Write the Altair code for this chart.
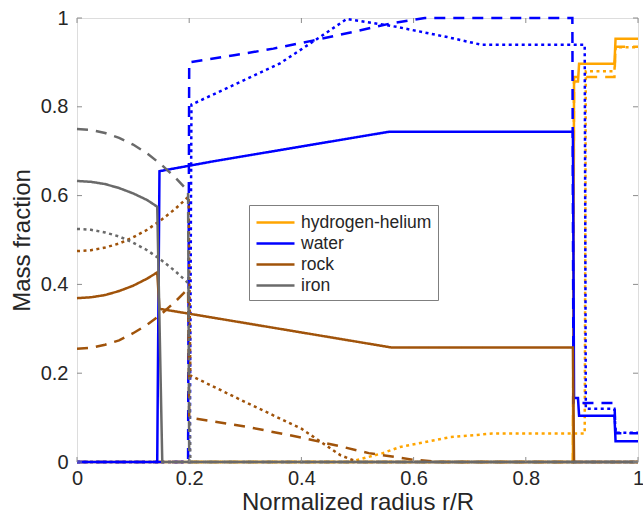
import altair as alt
import pandas as pd

components = ["hydrogen-helium", "water", "rock", "iron"]
colors = ["#FFA500", "#0000FF", "#A0530A", "#6A6A6A"]
styles = ["solid", "dashed", "dotted"]
dashes = [[1, 0], [11, 8], [3, 3.5]]

tick_values = [0, 0.2, 0.4, 0.6, 0.8, 1]

# hydrogen-helium
hhe_solid_x = [0, 0.884, 0.886, 0.893, 0.895, 0.958, 0.960, 1.0]
hhe_solid_y = [0, 0, 0.857, 0.857, 0.897, 0.897, 0.953, 0.953]
hhe_dashed_x = [0, 0.884, 0.886, 0.958, 0.960, 1.0]
hhe_dashed_y = [0, 0, 0.867, 0.867, 0.935, 0.935]
hhe_dotted_x = [0, 0.486, 0.545, 0.576, 0.665, 0.74, 0.905, 0.907, 0.958, 0.960, 1.0]
hhe_dotted_y = [0, 0, 0.02, 0.034, 0.056, 0.064, 0.064, 0.88, 0.88, 0.934, 0.934]

# water
water_solid_x = [0, 0.143, 0.147, 0.242, 0.35, 0.557, 0.884, 0.886, 0.893, 0.895, 0.958, 0.960, 1.0]
water_solid_y = [0, 0, 0.655, 0.677, 0.70, 0.744, 0.744, 0.144, 0.144, 0.104, 0.104, 0.047, 0.047]
water_dashed_x = [0, 0.198, 0.200, 0.28, 0.35, 0.42, 0.49, 0.56, 0.62, 0.883, 0.885, 0.958, 0.960, 1.0]
water_dashed_y = [0, 0, 0.9, 0.916, 0.931, 0.949, 0.968, 0.988, 1.0, 1.0, 0.133, 0.133, 0.065, 0.065]
water_dotted_x = [0, 0.201, 0.204, 0.272, 0.362, 0.433, 0.481, 0.57, 0.66, 0.72, 0.905, 0.907, 0.958, 0.960, 1.0]
water_dotted_y = [0, 0, 0.805, 0.845, 0.898, 0.957, 0.998, 0.98, 0.957, 0.94, 0.94, 0.12, 0.12, 0.066, 0.066]

# rock
rock_solid_x = [0, 0.025, 0.05, 0.075, 0.1, 0.125, 0.143, 0.147, 0.2, 0.56, 0.884, 0.886, 1.0]
rock_solid_y = [0.369, 0.371, 0.376, 0.385, 0.397, 0.413, 0.427, 0.345, 0.334, 0.258, 0.258, 0, 0]
rock_dashed_x = [0, 0.025, 0.05, 0.075, 0.1, 0.125, 0.15, 0.175, 0.198, 0.200, 0.3, 0.4, 0.47, 0.52, 0.6, 0.65, 1.0]
rock_dashed_y = [0.255, 0.257, 0.264, 0.274, 0.29, 0.309, 0.333, 0.361, 0.39, 0.1, 0.08, 0.055, 0.035, 0.02, 0.005, 0, 0]
rock_dotted_x = [0, 0.025, 0.05, 0.075, 0.1, 0.125, 0.15, 0.175, 0.199, 0.202, 0.3, 0.4, 0.47, 0.5, 1.0]
rock_dotted_y = [0.475, 0.477, 0.483, 0.492, 0.506, 0.523, 0.545, 0.57, 0.598, 0.195, 0.135, 0.075, 0.015, 0, 0]

# iron
iron_solid_x = [0, 0.025, 0.05, 0.075, 0.1, 0.125, 0.143, 0.152, 1.0]
iron_solid_y = [0.633, 0.631, 0.626, 0.617, 0.605, 0.590, 0.575, 0, 0]
iron_dashed_x = [0, 0.025, 0.05, 0.075, 0.1, 0.125, 0.15, 0.175, 0.198, 0.200, 1.0]
iron_dashed_y = [0.75, 0.748, 0.741, 0.730, 0.715, 0.695, 0.670, 0.641, 0.61, 0, 0]
iron_dotted_x = [0, 0.025, 0.05, 0.075, 0.1, 0.125, 0.15, 0.175, 0.199, 0.202, 1.0]
iron_dotted_y = [0.525, 0.523, 0.517, 0.508, 0.494, 0.477, 0.455, 0.43, 0.402, 0, 0]

series = {
    "hydrogen-helium": [(hhe_solid_x, hhe_solid_y), (hhe_dashed_x, hhe_dashed_y), (hhe_dotted_x, hhe_dotted_y)],
    "water": [(water_solid_x, water_solid_y), (water_dashed_x, water_dashed_y), (water_dotted_x, water_dotted_y)],
    "rock": [(rock_solid_x, rock_solid_y), (rock_dashed_x, rock_dashed_y), (rock_dotted_x, rock_dotted_y)],
    "iron": [(iron_solid_x, iron_solid_y), (iron_dashed_x, iron_dashed_y), (iron_dotted_x, iron_dotted_y)],
}

rows = []
for comp, lst in series.items():
    for style, (xs, ys) in zip(styles, lst):
        for i, (xv, yv) in enumerate(zip(xs, ys)):
            rows.append({"component": comp, "style": style, "x": xv, "y": yv, "i": i})
df = pd.DataFrame(rows)

FONT = "Liberation Sans"
W, H = 561, 444

xscale = alt.Scale(domain=[0, 1], nice=False, zero=False)
yscale = alt.Scale(domain=[0, 1], nice=False, zero=False)

xaxis = alt.Axis(values=tick_values, format="~g", domain=False, ticks=False, grid=False,
                 labelFlush=False,
                 labelFontSize=20, labelFont=FONT, labelColor="#262626", labelPadding=6,
                 title="Normalized radius r/R", titleFontSize=24, titleFont=FONT,
                 titleFontWeight="normal", titleColor="#262626", titlePadding=2)
yaxis = alt.Axis(values=tick_values, format="~g", domain=False, ticks=False, grid=False,
                 labelFlush=False,
                 labelFontSize=20, labelFont=FONT, labelColor="#262626", labelPadding=9,
                 title="Mass fraction", titleFontSize=24, titleFont=FONT,
                 titleFontWeight="normal", titleColor="#262626", titlePadding=6)

color_enc = alt.Color("component:N", scale=alt.Scale(domain=components, range=colors),
                      legend=alt.Legend(title=None, orient="none", legendX=172, legendY=187,
                                        symbolType="M-1,0H2.8", symbolStrokeWidth=2.5, symbolSize=400,
                                        labelFontSize=17.5, labelFont=FONT, labelColor="#262626",
                                        labelOffset=23, fillColor="white", strokeColor="#7f7f7f",
                                        padding=6, rowPadding=1, cornerRadius=0))

layers = []
for k, comp in enumerate(components):
    layers.append(
        alt.Chart(df[df.component == comp]).mark_line(strokeWidth=2.5, strokeCap="butt").encode(
            x=alt.X("x:Q", scale=xscale, axis=xaxis),
            y=alt.Y("y:Q", scale=yscale, axis=yaxis),
            color=color_enc,
            strokeDash=alt.StrokeDash("style:N", scale=alt.Scale(domain=styles, range=dashes), legend=None),
            detail="style:N",
            order="i:Q",
        )
    )

xt = pd.DataFrame({"x": tick_values})
yt = pd.DataFrame({"y": tick_values})
tick_col = "#8c8c8c"
xe = alt.X("x:Q", scale=xscale, axis=xaxis)
ye = alt.Y("y:Q", scale=yscale, axis=yaxis)
tb = alt.Chart(xt).mark_rule(color=tick_col, strokeWidth=1).encode(x=xe, y=alt.value(H), y2=alt.value(H - 5))
tt = alt.Chart(xt).mark_rule(color=tick_col, strokeWidth=1).encode(x=xe, y=alt.value(0), y2=alt.value(5))
tl = alt.Chart(yt).mark_rule(color=tick_col, strokeWidth=1).encode(y=ye, x=alt.value(0), x2=alt.value(5))
tr = alt.Chart(yt).mark_rule(color=tick_col, strokeWidth=1).encode(y=ye, x=alt.value(W), x2=alt.value(W - 5))

chart = alt.layer(*layers, tb, tt, tl, tr).properties(
    width=W, height=H,
    padding={"left": 77, "top": 18, "right": 5, "bottom": 60},
    autosize=alt.AutoSizeParams(type="none"),
).configure_view(stroke="#a6a6a6", strokeWidth=1).configure(background="white")

chart.save("out.html", embed_options={"renderer": "svg", "actions": False})
